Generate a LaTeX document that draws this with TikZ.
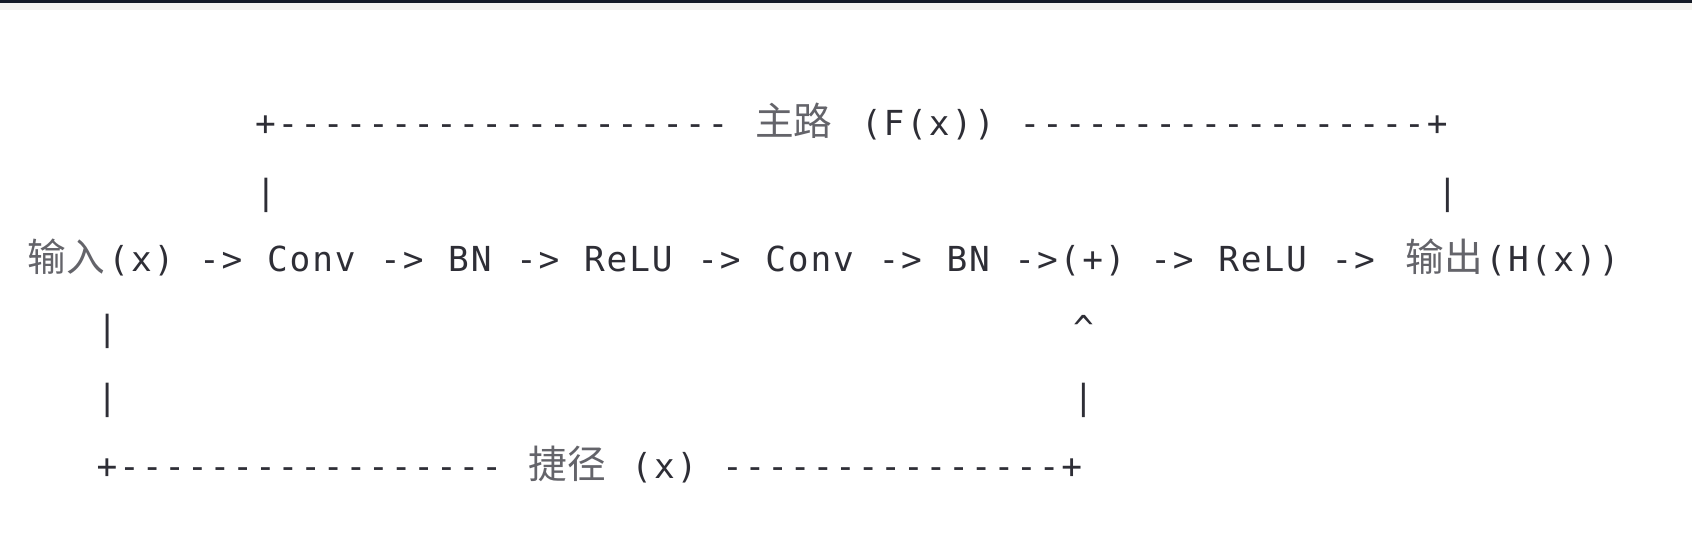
\documentclass[tikz,border=0pt]{standalone}
\usepackage{fontspec}
\newfontfamily\asciifont{DejaVu Sans Mono}[LetterSpace=5.5]
\newfontfamily\hanfont{Noto Sans CJK SC}
\definecolor{ink}{RGB}{46,46,54}
\definecolor{hanink}{RGB}{100,100,106}
\definecolor{topbar}{RGB}{22,27,38}
\definecolor{topband}{RGB}{246,244,240}
\tikzset{
	asc/.style={anchor=base west, inner sep=0pt, outer sep=0pt, text=ink, font=\asciifont\fontsize{9.8}{11}\selectfont},
	han/.style={anchor=base west, inner sep=0pt, outer sep=0pt, text=hanink, font=\hanfont\fontsize{11}{13}\selectfont},
}

\begin{document}
\begin{tikzpicture}[x=0.1mm, y=-0.1mm]
		%%%%% START %%%%%
		
		\fill[white] (0, 0) rectangle (1692, 533);
		\fill[topband] (0, 0) rectangle (1692, 10);
		\fill[topbar] (0, 0) rectangle (1692, 2.5);
		\useasboundingbox (0, 0) rectangle (1692, 533);
		
		% main path, top
		\node[asc] (mainl) at (255, 135) {+--------------------};
		\node[han] (mainname) at (755, 135) {主路};
		\node[asc] (mainf) at (861, 135) {(F(x))};
		\node[asc] (mainr) at (1019.5, 135) {------------------+};
		
		\node[asc] (mainlv) at (255.6, 204) {|};
		\node[asc] (mainrv) at (1437, 204) {|};
		
		% the chain
		\node[han] (in) at (27.5, 271) {输入};
		\node[asc] (inx) at (108.4, 271) {(x)};
		\node[asc] (a1) at (199, 271) {->};
		\node[asc] (conv1) at (267, 271) {Conv};
		\node[asc] (a2) at (380.2, 271) {->};
		\node[asc] (bn1) at (448.2, 271) {BN};
		\node[asc] (a3) at (516.1, 271) {->};
		\node[asc] (relu1) at (584, 271) {ReLU};
		\node[asc] (a4) at (697.3, 271) {->};
		\node[asc] (conv2) at (765.3, 271) {Conv};
		\node[asc] (a5) at (878.5, 271) {->};
		\node[asc] (bn2) at (946.5, 271) {BN};
		\node[asc] (a6) at (1014.4, 271) {->};
		\node[asc] (add) at (1059.7, 271) {(+)};
		\node[asc] (a7) at (1150.3, 271) {->};
		\node[asc] (relu2) at (1218.3, 271) {ReLU};
		\node[asc] (a8) at (1331.5, 271) {->};
		\node[han] (out) at (1405.5, 271) {输出};
		\node[asc] (outh) at (1485.4, 271) {(H(x))};
		
		% shortcut, bottom
		\node[asc] (skiplv1) at (96.8, 340) {|};
		\node[asc] (skipup) at (1073, 340) {\^{}};
		\node[asc] (skiplv2) at (96.8, 409) {|};
		\node[asc] (skiprv) at (1073, 409) {|};
		
		\node[asc] (skipl) at (96.6, 478) {+-----------------};
		\node[han] (skipname) at (528.5, 478) {捷径};
		\node[asc] (skipx) at (631.4, 478) {(x)};
		\node[asc] (skipr) at (722, 478) {---------------+};
		
		%%%%% END %%%%%
\end{tikzpicture}
\end{document}
